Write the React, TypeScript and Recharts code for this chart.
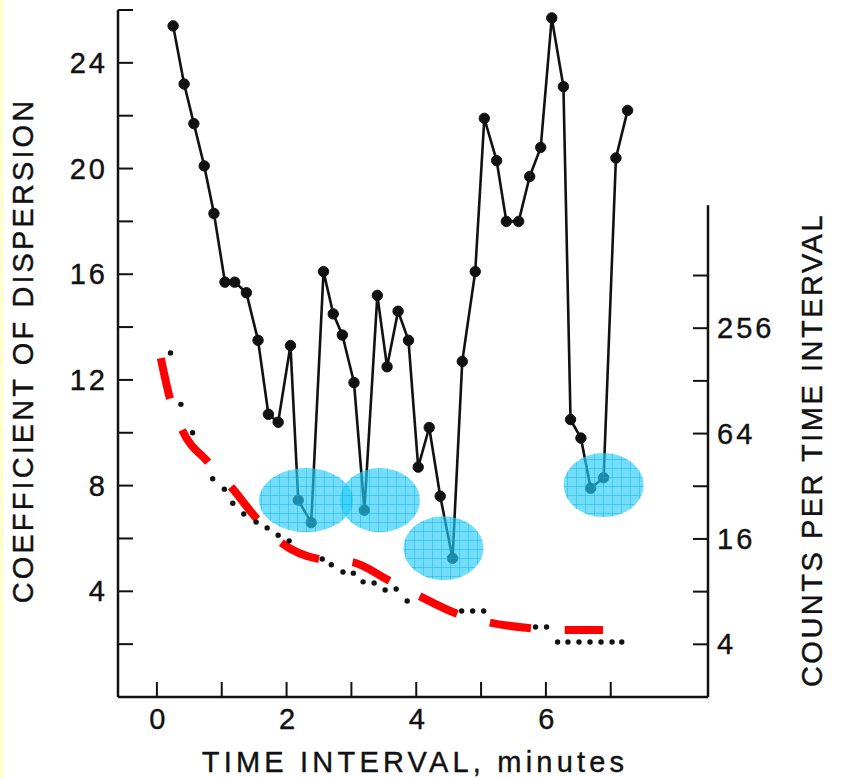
import React from 'react';
import { ComposedChart, Line, Scatter, XAxis, YAxis, ReferenceLine } from 'recharts';

// Coefficient of dispersion vs. time interval (left axis)
const TIME_MIN = [0.25, 0.42, 0.57, 0.73, 0.88, 1.05, 1.2, 1.38, 1.56, 1.72, 1.87, 2.06, 2.18, 2.38, 2.57, 2.72, 2.86, 3.04, 3.2, 3.4, 3.55, 3.72, 3.88, 4.03, 4.2, 4.37, 4.56, 4.71, 4.91, 5.05, 5.24, 5.39, 5.58, 5.75, 5.92, 6.09, 6.27, 6.38, 6.54, 6.69, 6.89, 7.08, 7.26];
const DISPERSION = [25.4, 23.2, 21.7, 20.1, 18.3, 15.7, 15.7, 15.3, 13.5, 10.7, 10.4, 13.3, 7.45, 6.6, 16.1, 14.5, 13.7, 11.9, 7.07, 15.2, 12.5, 14.6, 13.5, 8.7, 10.2, 7.6, 5.25, 12.7, 16.1, 21.9, 20.3, 18.0, 18.0, 19.7, 20.8, 25.7, 23.1, 10.5, 9.8, 7.9, 8.3, 20.4, 22.2];

// Counts per time interval (right axis, log)
const COUNT_TIME = [0.21, 0.37, 0.55, 0.86, 1.04, 1.17, 1.34, 1.53, 1.7, 1.87, 2.04, 2.55, 2.69, 2.87, 3.03, 3.18, 3.35, 3.52, 3.69, 3.86, 4.7, 4.87, 5.04, 5.84, 6.01, 6.18, 6.34, 6.51, 6.68, 6.85, 7.02, 7.17];
const COUNTS = [185, 94, 64.7, 35.3, 30.8, 25.6, 22.2, 20.0, 18.5, 16.8, 15.6, 12.3, 11.4, 10.35, 10.2, 9.1, 8.96, 8.17, 8.28, 7.07, 6.2, 6.2, 6.2, 5.02, 5.02, 4.12, 4.12, 4.12, 4.12, 4.12, 4.12, 4.12];

// red dashed fit curve (right axis)
const FIT_TIME = [0.06, 0.2, 0.39, 0.79, 1.16, 1.53, 1.9, 2.49, 3.01, 3.57, 4.02, 4.6, 5.1, 5.73, 6.24, 6.88];
const FIT_COUNTS = [172.8, 102, 67, 44, 31.2, 21.1, 15.4, 12.3, 11.8, 9.3, 7.65, 6.04, 5.36, 4.96, 4.83, 4.83];

// highlighted minima (centres, left axis)
const HIGHLIGHT_TIME = [2.3, 3.44, 4.42, 6.89];
const HIGHLIGHT_DISP = [7.45, 7.45, 5.63, 8.02];

const X_TICKS = [0, 1, 2, 3, 4, 5, 6, 7];
const X_LABELS = [0, 2, 4, 6];
const LEFT_TICKS = [2, 4, 6, 8, 10, 12, 14, 16, 18, 20, 22, 24, 26];
const LEFT_LABELS = [4, 8, 12, 16, 20, 24];
const RIGHT_TICKS = [4, 8, 16, 32, 64, 128, 256, 512];
const RIGHT_LABELS = [4, 16, 64, 256];
const RIGHT_AXIS_TOP = 1290;

const mainData = TIME_MIN.map((t, i) => ({ t, v: DISPERSION[i] }));
const countData = COUNT_TIME.map((t, i) => ({ t, c: COUNTS[i] }));
const fitData = FIT_TIME.map((t, i) => ({ t, c: FIT_COUNTS[i] }));
const highlightData = HIGHLIGHT_TIME.map((t, i) => ({ t, v: HIGHLIGHT_DISP[i], id: i }));

const ELLIPSE_RX = [47, 40, 40, 40];
const INK = '#111';
const FONT = '"Liberation Sans", Arial, sans-serif';
const textStyle = { fontFamily: FONT, fontSize: 29, letterSpacing: 3, fill: INK, stroke: INK, strokeWidth: 0.4 };

const XTick = ({ x, y, payload }: any) => (
  <g>
    <line x1={x} x2={x} y1={y} y2={y - 15} stroke={INK} strokeWidth={2} />
    {X_LABELS.includes(payload.value) && (
      <text x={x + 2} y={y + 32} textAnchor="middle" style={textStyle}>{payload.value}</text>
    )}
  </g>
);

const LeftTick = ({ x, y, payload }: any) => (
  <g>
    <line x1={x} x2={x + 15} y1={y} y2={y} stroke={INK} strokeWidth={2} />
    {LEFT_LABELS.includes(payload.value) && (
      <text x={x - 10} y={y + 10} textAnchor="end" style={textStyle}>{payload.value}</text>
    )}
  </g>
);

const RightTick = ({ x, y, payload }: any) => (
  <g>
    <line x1={x} x2={x - 15} y1={y} y2={y} stroke={INK} strokeWidth={2} />
    {RIGHT_LABELS.includes(payload.value) && (
      <text x={x + 9} y={y + 10} textAnchor="start" style={textStyle}>{payload.value}</text>
    )}
  </g>
);

const HighlightShape = (props: any) => {
  const { cx, cy, payload } = props;
  const rx = ELLIPSE_RX[payload.id];
  return (
    <g>
      <defs>
        <pattern id="hl-grid" width={9} height={9} patternUnits="userSpaceOnUse">
          <path d="M 9 0 L 0 0 0 9" fill="none" stroke="#00b2ea" strokeWidth={1} />
        </pattern>
      </defs>
      <ellipse cx={cx} cy={cy} rx={rx} ry={32} fill="#28cbf8" fillOpacity={0.65} />
      <ellipse cx={cx} cy={cy} rx={rx} ry={32} fill="url(#hl-grid)" fillOpacity={0.85} />
    </g>
  );
};

const CountDot = (props: any) => <circle cx={props.cx} cy={props.cy} r={2.7} fill={INK} />;

const rotatedTitle = (text: string, dx: (vb: any) => number, dy: (vb: any) => number, spacing: number) =>
  ({ viewBox }: any) => {
    const cx = dx(viewBox);
    const cy = dy(viewBox);
    return (
      <text
        x={cx}
        y={cy}
        textAnchor="middle"
        dominantBaseline="central"
        transform={`rotate(-90 ${cx} ${cy})`}
        style={{ ...textStyle, letterSpacing: spacing }}
      >
        {text}
      </text>
    );
  };

export default function App() {
  return (
    <div style={{ position: 'absolute', left: 0, top: 0, width: 841, height: 778, background: '#fff' }}>
      <div style={{ position: 'absolute', left: 0, top: 0, width: 3, height: 778, background: '#ffffc8' }} />
      <ComposedChart width={841} height={778} margin={{ top: 10, right: 73, bottom: 51, left: 58 }}>
        <XAxis
          type="number"
          dataKey="t"
          domain={[-0.6, 8.5]}
          ticks={X_TICKS}
          allowDataOverflow
          height={30}
          tickSize={0}
          tickMargin={0}
          tickLine={false}
          interval={0}
          axisLine={{ stroke: INK, strokeWidth: 2.5 }}
          tick={<XTick />}
          label={{
            content: ({ viewBox }: any) => (
              <text
                x={viewBox.x + viewBox.width / 2 + 2}
                y={viewBox.y + 75}
                textAnchor="middle"
                style={{ ...textStyle, letterSpacing: 4.2 }}
              >
                TIME INTERVAL, minutes
              </text>
            ),
          }}
        />
        <YAxis
          yAxisId="left"
          type="number"
          domain={[0, 26]}
          ticks={LEFT_TICKS}
          allowDataOverflow
          width={60}
          tickSize={0}
          tickMargin={0}
          tickLine={false}
          interval={0}
          axisLine={{ stroke: INK, strokeWidth: 2.5 }}
          tick={<LeftTick />}
          label={{
            content: rotatedTitle(
              'COEFFICIENT OF DISPERSION',
              (vb) => vb.x + vb.width - 95,
              (vb) => vb.y + vb.height / 2 - 3,
              3.1,
            ),
          }}
        />
        <YAxis
          yAxisId="right"
          orientation="right"
          type="number"
          scale="log"
          domain={[2, 16840]}
          ticks={RIGHT_TICKS}
          allowDataOverflow
          width={60}
          tickSize={0}
          tickMargin={0}
          tickLine={false}
          interval={0}
          axisLine={false}
          tick={<RightTick />}
          label={{
            content: rotatedTitle(
              'COUNTS PER TIME INTERVAL',
              (vb) => vb.x + 104,
              (vb) => vb.y + vb.height - 247,
              2.5,
            ),
          }}
        />
        <ReferenceLine
          yAxisId="right"
          segment={[{ x: 8.5, y: 2 }, { x: 8.5, y: RIGHT_AXIS_TOP }]}
          stroke={INK}
          strokeWidth={2.5}
          ifOverflow="visible"
        />
        <Scatter yAxisId="right" data={countData} dataKey="c" shape={<CountDot />} isAnimationActive={false} />
        <Line
          yAxisId="right"
          data={fitData}
          dataKey="c"
          type="monotone"
          stroke="#ff0000"
          strokeWidth={8}
          strokeDasharray="41.5 33.8"
          strokeLinecap="butt"
          dot={false}
          activeDot={false}
          isAnimationActive={false}
        />
        <Line
          yAxisId="left"
          data={mainData}
          dataKey="v"
          type="linear"
          stroke={INK}
          strokeWidth={2.6}
          dot={{ r: 5.2, fill: INK, stroke: INK, strokeWidth: 1 }}
          activeDot={false}
          isAnimationActive={false}
        />
        <Scatter yAxisId="left" data={highlightData} dataKey="v" shape={<HighlightShape />} isAnimationActive={false} />
      </ComposedChart>
    </div>
  );
}
